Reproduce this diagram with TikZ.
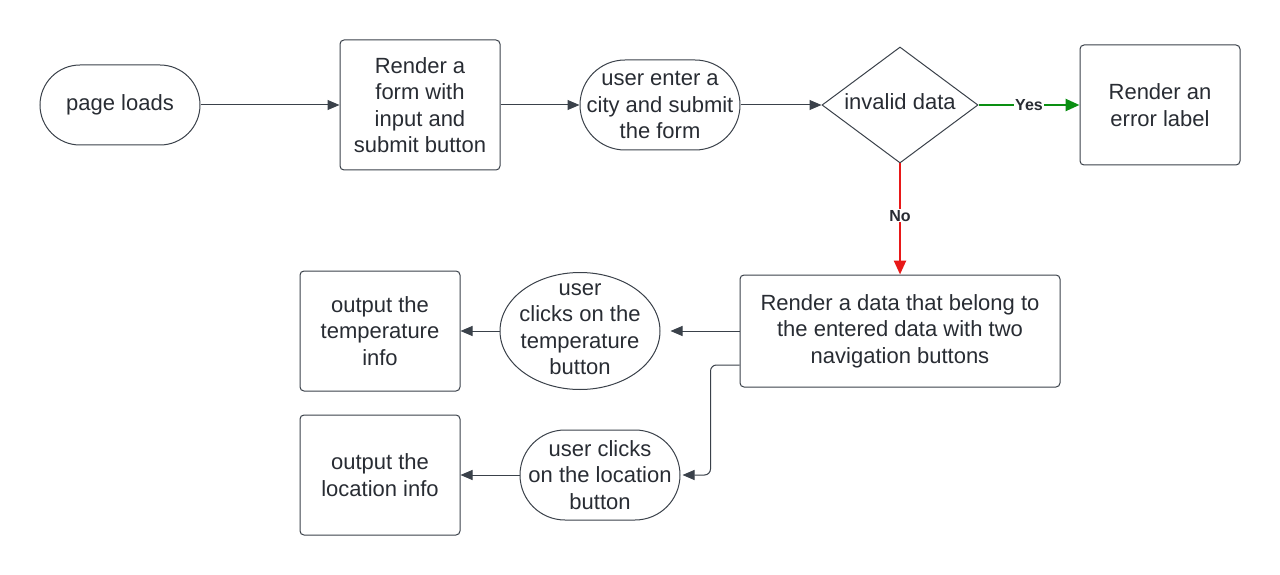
\documentclass[tikz,border=0pt]{standalone}
\usepackage{fontspec}
\setmainfont{Liberation Sans}
\usetikzlibrary{arrows.meta,shapes.geometric}
\definecolor{ink}{HTML}{3A414A}
\definecolor{txt}{HTML}{282C33}
\definecolor{yesgreen}{HTML}{0A8F12}
\definecolor{nored}{HTML}{E81818}
\begin{document}
\begin{tikzpicture}[x=1pt,y=-1pt,
  every node/.style={text=txt, font=\fontsize{22}{26.5}\selectfont, align=center},
  box/.style={draw=ink, line width=1pt, rectangle, rounded corners=4pt, minimum width=160pt, inner sep=2pt},
  stadium/.style={draw=ink, line width=1pt, rectangle, minimum width=160pt, inner sep=2pt},
  conn/.style={draw=ink, line width=1pt, -{Triangle[length=12pt,width=10pt]}},
  lbl/.style={fill=white, inner sep=1pt, font=\fontsize{16}{18}\selectfont\bfseries}
]
\useasboundingbox (0,0) rectangle (1280,575);
% top row
\node[stadium, minimum height=80pt, rounded corners=40pt] (page) at (120,105) {page loads};
\node[box, minimum height=130pt] (form) at (420,105) {Render a\\form with\\input and\\submit button};
\node[stadium, minimum height=90pt, rounded corners=45pt] (city) at (660,105) {user enter a\\city and submit\\the form};
\node[draw=ink, line width=1pt, diamond, minimum width=156pt, minimum height=116pt, inner sep=0pt] (inv) at (900,105) {};
\node (invt) at (900,102) {invalid data};
\node[box, minimum height=120pt] (err) at (1160,105) {Render an\\error label};
% lower part
\node[box, minimum width=320pt, minimum height=112pt] (data) at (900,331) {Render a data that belong to\\the entered data with two\\navigation buttons};
\node[draw=ink, line width=1pt, ellipse, minimum width=160pt, minimum height=117pt, inner sep=0pt] (temp) at (580,331) {};
\node (tempt) at (580,329) {user\\clicks on the\\temperature\\button};
\node[box, minimum height=120pt] (otemp) at (380,331) {output the\\temperature\\info};
\node[stadium, minimum height=90pt, rounded corners=45pt] (loc) at (600,475) {user clicks\\on the location\\button};
\node[box, minimum height=120pt] (oloc) at (380,475) {output the\\location info};
% connectors
\draw[conn] (page) -- (form);
\draw[conn] (form) -- (city);
\draw[conn] (city) -- (inv);
\draw[conn, draw=yesgreen, line width=2.5pt, -{Triangle[length=14pt,width=12pt]}] (inv.east) -- node[lbl, pos=0.5] (yes) {Yes} (err.west);
\draw[conn, draw=nored, line width=2.5pt, -{Triangle[length=14pt,width=12pt]}] (inv.south) -- node[lbl, pos=0.47] (no) {No} (data.north);
\draw[conn, shorten >=10pt] (data.west) -- (temp.east);
\draw[conn] (temp.west) -- (otemp.east);
\draw[conn, rounded corners=6pt] ([yshift=-34pt]data.west) -| ([xshift=30pt]loc.east) -- ([xshift=2pt]loc.east);
\draw[conn] (loc.west) -- (oloc.east);
\end{tikzpicture}
\end{document}
